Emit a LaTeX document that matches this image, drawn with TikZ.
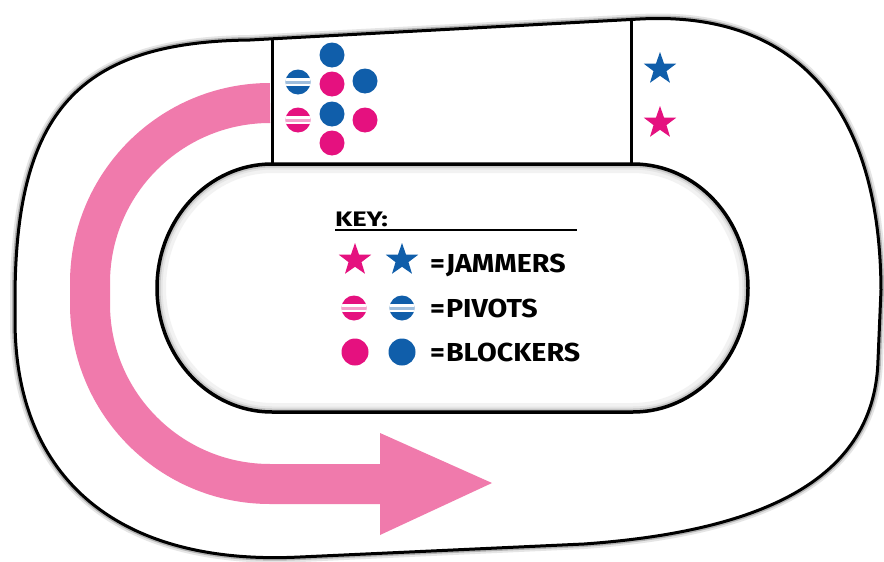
\documentclass[tikz,border=0pt]{standalone}
\usepackage{fontspec}
\setmainfont{Fira Sans}
\newfontfamily\keyfont[FakeStretch=1.1]{Fira Sans}
\newfontfamily\keytitlefont[FakeStretch=1.3]{Fira Sans}
\usetikzlibrary{shapes.geometric}
\definecolor{arrowpink}{RGB}{240,122,172}
\definecolor{teampink}{RGB}{229,17,127}
\definecolor{teamblue}{RGB}{16,94,170}
\def\trackouter{(250,40) -- (640,19)
  .. controls (790,11) and (880,100) .. (881,290)
  -- (878,360)
  .. controls (875,470) and (780,530) .. (584,544)
  -- (300,557)
  .. controls (120,566) and (15,480) .. (15,320)
  -- (15,300)
  .. controls (15,110) and (80,42) .. (250,40) -- cycle}
\def\trackinner{(272,164) -- (633,164)
  .. controls (696.5,164) and (748,219.5) .. (748,288)
  .. controls (748,356.5) and (696.5,412) .. (633,412)
  -- (272,412)
  .. controls (208.5,412) and (157,356.5) .. (157,288)
  .. controls (157,219.5) and (208.5,164) .. (272,164) -- cycle}
\tikzset{
  trackline/.style={line width=3pt, black},
  player/.style={circle, inner sep=0pt, minimum size=25pt},
  bigplayer/.style={circle, inner sep=0pt, minimum size=27pt},
  jammer/.style={star, star points=5, star point ratio=2.5, inner sep=0pt, minimum size=34pt},
  keytext/.style={font=\keyfont\bfseries\fontsize{26}{26}\selectfont, anchor=base west, inner sep=0pt},
  pics/pivot/.style={code={
    \fill[#1] (0,0) circle (12.5pt);
    \begin{scope}
      \clip (0,0) circle (12.5pt);
      \fill[white] (-14,-4.2) rectangle (14,4.2);
      \fill[#1!40] (-14,-1.5) rectangle (14,1.5);
    \end{scope}}}
}
\begin{document}
\begin{tikzpicture}[x=1pt,y=-1pt]
\useasboundingbox (0,0) rectangle (884,562);
\fill[white] (0,0) rectangle (884,562);
% outer track with soft halo
\draw[line width=10pt, black!10] \trackouter;
\draw[line width=6pt, black!30] \trackouter;
\fill[white] \trackouter;
\draw[trackline] \trackouter;
% inner oval with inner shadow
\fill[white] \trackinner;
\begin{scope}
  \clip \trackinner;
  \draw[line width=18pt, black!5] \trackinner;
  \draw[line width=11pt, black!10] \trackinner;
  \draw[line width=7pt, black!22] \trackinner;
\end{scope}
\draw[line width=3.5pt] \trackinner;
% arrow
\coordinate (astart) at (270,103);
\coordinate (aend) at (381,484);
\coordinate (atip) at (492,483);
\draw[arrowpink, line width=40pt] (astart)
  .. controls (170.6,103) and (90,183.6) .. (90,283)
  -- (90,304)
  .. controls (90,403.4) and (170.6,484) .. (270,484)
  -- (aend);
\fill[arrowpink] (380,433) -- (atip) -- (380,535) -- cycle;
% jam box
\coordinate (bl1) at (272,38); \coordinate (bl2) at (272,165);
\coordinate (br1) at (631,19); \coordinate (br2) at (631,164);
\draw[trackline] (bl1) -- (bl2);
\draw[trackline] (br1) -- (br2);
% pack
\node[player, fill=teamblue] (b1) at (332,55) {};
\pic (pv1) at (298,82) {pivot=teamblue};
\node[player, fill=teampink] (p1) at (332,84) {};
\node[player, fill=teamblue] (b2) at (365,81) {};
\pic (pv2) at (298,120) {pivot=teampink};
\node[player, fill=teamblue] (b3) at (332,114) {};
\node[player, fill=teampink] (p2) at (365,120) {};
\node[player, fill=teampink] (p3) at (332,143) {};
% jammers
\node[jammer, fill=teamblue] (jb) at (660,69) {};
\node[jammer, fill=teampink] (jp) at (660,123) {};
% key
\node[keytext, font=\keytitlefont\bfseries\fontsize{21}{21}\selectfont] (key) at (335,226) {KEY:};
\coordinate (ul1) at (335,230);
\coordinate (ul2) at (577,230);
\draw[line width=2pt] (ul1) -- (ul2);
\node[jammer, fill=teampink] (kj1) at (355,260) {};
\node[jammer, fill=teamblue] (kj2) at (402,260) {};
\node[keytext] (tj) at (430,272) {=\kern1pt JAMMERS};
\pic (kp1) at (354,308) {pivot=teampink};
\pic (kp2) at (402,308) {pivot=teamblue};
\node[keytext] (tp) at (430,317) {=\kern1pt PIVOTS};
\node[bigplayer, fill=teampink] (kb1) at (355,352) {};
\node[bigplayer, fill=teamblue] (kb2) at (402,352) {};
\node[keytext] (tb) at (430,361) {=\kern1pt BLOCKERS};
\end{tikzpicture}
\end{document}
